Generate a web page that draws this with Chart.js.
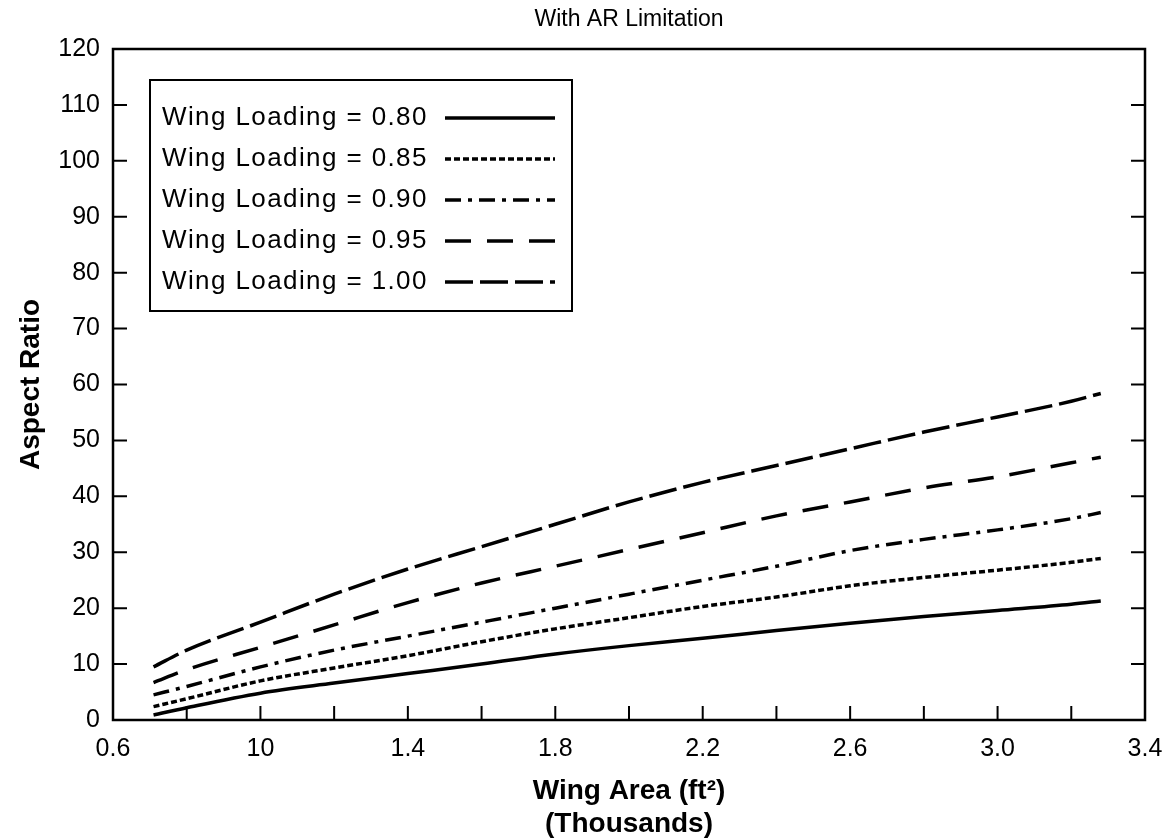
<!DOCTYPE html>
<html>
<head>
<meta charset="utf-8">
<title>With AR Limitation</title>
<script src="https://cdn.jsdelivr.net/npm/chart.js@4.4.1/dist/chart.umd.min.js"></script>
<style>
  html, body { margin: 0; padding: 0; background: #fff; }
  canvas { display: block; }
</style>
</head>
<body>
<canvas id="ar-chart" width="1172" height="840"></canvas>
<script>
// wing area, thousands of ft^2
const wingArea = [0.71, 0.8, 1.0, 1.2, 1.4, 1.6, 1.8, 2.0, 2.2, 2.4, 2.6, 2.8, 3.0, 3.2, 3.28];

// aspect ratio for each wing loading
const ar080 = [0.9, 2.2, 4.8, 6.6, 8.3, 10.0, 11.8, 13.3, 14.6, 16.0, 17.3, 18.5, 19.6, 20.7, 21.3];
const ar085 = [2.4, 3.8, 7.0, 9.3, 11.5, 14.0, 16.3, 18.3, 20.3, 22.0, 24.0, 25.5, 26.8, 28.2, 28.9];
const ar090 = [4.5, 6.0, 9.5, 12.5, 15.0, 17.5, 20.0, 22.5, 25.0, 27.5, 30.3, 32.3, 34.0, 36.0, 37.1];
const ar095 = [6.7, 9.0, 13.0, 17.0, 21.0, 24.5, 27.5, 30.5, 33.5, 36.5, 39.0, 41.5, 43.5, 46.0, 47.0];
const ar100 = [9.5, 12.5, 17.5, 22.5, 27.0, 31.0, 35.0, 39.0, 42.5, 45.5, 48.5, 51.5, 54.2, 57.0, 58.4];

const seriesLabels = [
  "Wing Loading = 0.80",
  "Wing Loading = 0.85",
  "Wing Loading = 0.90",
  "Wing Loading = 0.95",
  "Wing Loading = 1.00",
];

const xTickValues = [0.6, 1.0, 1.4, 1.8, 2.2, 2.6, 3.0, 3.4];
const xTickLabels = ["0.6", "10", "1.4", "1.8", "2.2", "2.6", "3.0", "3.4"];

const FONT = '"Liberation Sans", Arial, Helvetica, sans-serif';

const toPoints = (ys) => wingArea.map((x, i) => ({ x: x, y: ys[i] }));

const makeSet = (label, ys, dash, width) => ({
  label: label,
  data: toPoints(ys),
  borderColor: "#000",
  borderWidth: width,
  borderDash: dash,
  pointRadius: 0,
  fill: false,
  cubicInterpolationMode: "monotone",
});

// frame round the plot and inward tick marks
const frameAndTicks = {
  id: "frameAndTicks",
  afterDatasetsDraw(chart) {
    const { ctx, chartArea: a, scales } = chart;
    ctx.save();
    ctx.strokeStyle = "#000";
    ctx.setLineDash([]);
    ctx.lineWidth = 2.5;
    ctx.strokeRect(a.left, a.top, a.right - a.left, a.bottom - a.top);
    ctx.lineWidth = 2;
    ctx.beginPath();
    scales.x.ticks.forEach((t) => {
      const px = scales.x.getPixelForValue(t.value);
      ctx.moveTo(px, a.bottom);
      ctx.lineTo(px, a.bottom - 14);
    });
    scales.y.ticks.forEach((t) => {
      const py = scales.y.getPixelForValue(t.value);
      ctx.moveTo(a.left, py);
      ctx.lineTo(a.left + 14, py);
      ctx.moveTo(a.right, py);
      ctx.lineTo(a.right - 14, py);
    });
    ctx.stroke();
    ctx.restore();
  },
};

// boxed legend with text first and line sample after it
const boxLegend = {
  id: "boxLegend",
  afterDraw(chart) {
    const { ctx } = chart;
    ctx.save();
    ctx.strokeStyle = "#000";
    ctx.fillStyle = "#000";
    ctx.lineWidth = 2;
    ctx.setLineDash([]);
    ctx.strokeRect(150, 80, 422, 231);
    ctx.font = "26px " + FONT;
    ctx.letterSpacing = "1.4px";
    ctx.textBaseline = "middle";
    ctx.textAlign = "left";
    chart.data.datasets.forEach((ds, i) => {
      const y = 118 + i * 41;
      ctx.fillText(ds.label, 162, y);
      ctx.setLineDash(ds.borderDash || []);
      ctx.lineWidth = ds.borderWidth;
      ctx.beginPath();
      ctx.moveTo(445, y);
      ctx.lineTo(555, y);
      ctx.stroke();
    });
    ctx.restore();
  },
};

const ctx = document.getElementById("ar-chart").getContext("2d");
new Chart(ctx, {
  type: "line",
  data: {
    datasets: [
      makeSet(seriesLabels[0], ar080, [], 3.5),
      makeSet(seriesLabels[1], ar085, [6, 3], 3.5),
      makeSet(seriesLabels[2], ar090, [16, 7, 4, 7], 3.5),
      makeSet(seriesLabels[3], ar095, [26, 16], 3.5),
      makeSet(seriesLabels[4], ar100, [28, 7], 3.5),
    ],
  },
  options: {
    responsive: false,
    animation: false,
    devicePixelRatio: 1,
    layout: {
      padding: { top: 0, left: 0, right: 27, bottom: 0 },
    },
    plugins: {
      legend: { display: false },
      tooltip: { enabled: false },
    },
    scales: {
      x: {
        type: "linear",
        min: 0.6,
        max: 3.4,
        grid: { display: false },
        border: { display: false },
        ticks: {
          stepSize: 0.2,
          autoSkip: false,
          maxRotation: 0,
          padding: 6,
          color: "#000",
          font: { family: FONT, size: 25 },
          callback: (value) => {
            const i = xTickValues.findIndex((v) => Math.abs(v - value) < 1e-6);
            return i >= 0 ? xTickLabels[i] : "";
          },
        },
        title: {
          display: true,
          text: ["Wing Area (ft²)", "(Thousands)"],
          color: "#000",
          font: { family: FONT, size: 28, weight: "bold", lineHeight: 1.15 },
          padding: { top: 0, bottom: 0 },
        },
        afterFit: (scale) => {
          scale.height = 120;
        },
      },
      // top axis only carries the chart title, centred over the plot
      x2: {
        type: "linear",
        axis: "x",
        position: "top",
        min: 0.6,
        max: 3.4,
        grid: { display: false },
        border: { display: false },
        ticks: { display: false },
        title: {
          display: true,
          text: "With AR Limitation",
          color: "#000",
          font: { family: FONT, size: 23, weight: "normal" },
          padding: { top: 6, bottom: 0 },
        },
        afterFit: (scale) => {
          scale.height = 49;
        },
      },
      y: {
        min: 0,
        max: 120,
        grid: { display: false },
        border: { display: false },
        ticks: {
          stepSize: 10,
          padding: 5,
          color: "#000",
          font: { family: FONT, size: 25 },
        },
        title: {
          display: true,
          text: "Aspect Ratio",
          color: "#000",
          font: { family: FONT, size: 28, weight: "bold" },
          padding: { top: 14, bottom: 0 },
        },
        afterFit: (scale) => {
          scale.width = 113;
        },
      },
    },
  },
  plugins: [frameAndTicks, boxLegend],
});
</script>
</body>
</html>
